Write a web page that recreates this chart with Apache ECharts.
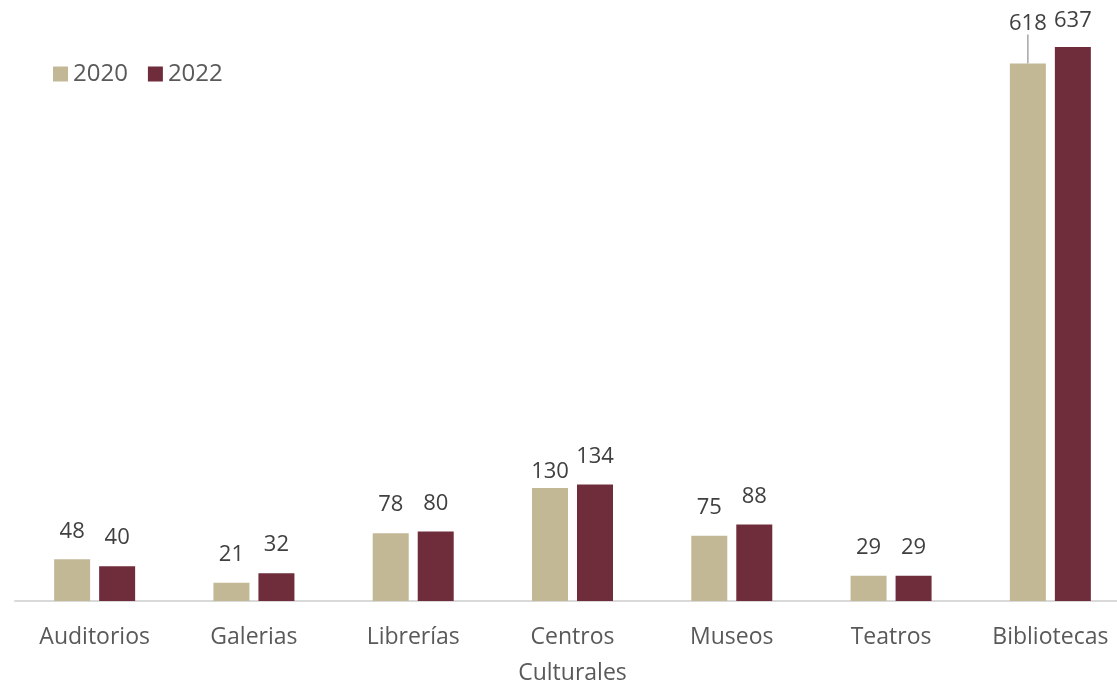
<!DOCTYPE html>
<html>
<head>
<meta charset="utf-8">
<script src="https://cdn.jsdelivr.net/npm/echarts@6/dist/echarts.min.js"></script>
<style>html,body{margin:0;padding:0;background:#fff}#c{width:1117px;height:683px}</style>
</head>
<body>
<div id="c"></div>
<script>
const categories = ['Auditorios', 'Galerias', 'Librerías', 'Centros\nCulturales', 'Museos', 'Teatros', 'Bibliotecas'];
const values2020 = [48, 21, 78, 130, 75, 29, 618];
const values2022 = [40, 32, 80, 134, 88, 29, 637];

const chart = echarts.init(document.getElementById('c'));
const font = '"Open Sans", Lato, sans-serif';
const labelBase = { show: true, position: 'top', distance: 17, fontSize: 22, color: '#404040', fontFamily: font };
chart.setOption({
  animation: false,
  textStyle: { fontFamily: font },
  legend: {
    left: 48, top: 57, itemWidth: 15, itemHeight: 15, itemGap: 20,
    icon: 'rect',
    textStyle: { fontSize: 24, color: '#595959', fontFamily: font }
  },
  grid: { left: 15, top: 35.7, width: 1115, height: 565.3, containLabel: false, outerBoundsMode: 'none' },
  xAxis: {
    type: 'category', data: categories,
    axisLine: { lineStyle: { color: '#D9D9D9', width: 2 } },
    axisTick: { show: false },
    axisLabel: { fontSize: 23, color: '#595959', margin: 18, lineHeight: 36, fontFamily: font, interval: 0 }
  },
  yAxis: { type: 'value', min: 0, max: 650, show: false, splitLine: { show: false } },
  series: [
    {
      name: '2020', type: 'bar', barWidth: 36, barGap: '25%',
      data: values2020.map((v, i) => i === 6
        ? { value: v, labelLine: { show: true, lineStyle: { color: '#A6A6A6', width: 1.5 } } }
        : v),
      itemStyle: { color: '#C2B896' },
      label: labelBase,
      labelLayout: function (p) {
        if (p.dataIndex === 6) return { dy: -12 };
        if (p.dataIndex === 3) return { dy: 12 };
        return {};
      },
      labelLine: { show: false }
    },
    {
      name: '2022', type: 'bar', data: values2022, barWidth: 36,
      itemStyle: { color: '#6F2C3B' },
      label: labelBase,
      labelLayout: function (p) {
        if (p.dataIndex === 6) return { dy: 2 };
        return {};
      }
    }
  ]
});
</script>
</body>
</html>
